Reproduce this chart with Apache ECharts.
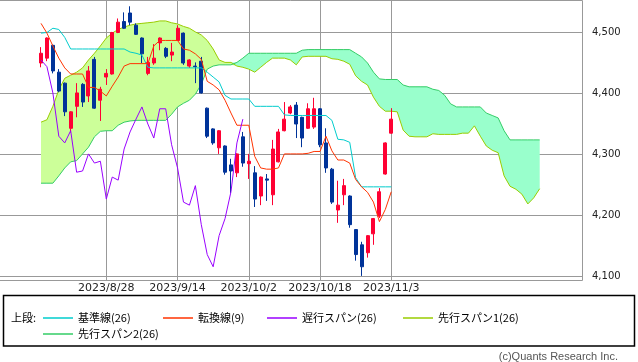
<!DOCTYPE html>
<html><head><meta charset="utf-8">
<script src="https://cdn.jsdelivr.net/npm/echarts@6/dist/echarts.min.js"></script>
<style>html,body{margin:0;padding:0;background:#fff}#c{width:638px;height:362px}</style>
</head><body><div id="c"></div>
<script>
const categories = ['2023/8/11','2023/8/14','2023/8/15','2023/8/16','2023/8/17','2023/8/18','2023/8/21','2023/8/22','2023/8/23','2023/8/24','2023/8/25','2023/8/28','2023/8/29','2023/8/30','2023/8/31','2023/9/1','2023/9/5','2023/9/6','2023/9/7','2023/9/8','2023/9/11','2023/9/12','2023/9/13','2023/9/14','2023/9/15','2023/9/18','2023/9/19','2023/9/20','2023/9/21','2023/9/22','2023/9/25','2023/9/26','2023/9/27','2023/9/28','2023/9/29','2023/10/2','2023/10/3','2023/10/4','2023/10/5','2023/10/6','2023/10/9','2023/10/10','2023/10/11','2023/10/12','2023/10/13','2023/10/16','2023/10/17','2023/10/18','2023/10/19','2023/10/20','2023/10/23','2023/10/24','2023/10/25','2023/10/26','2023/10/27','2023/10/30','2023/10/31','2023/11/1','2023/11/2','2023/11/3',
'2023/11/6','2023/11/7','2023/11/8','2023/11/9','2023/11/10','2023/11/13','2023/11/14','2023/11/15','2023/11/16','2023/11/17','2023/11/20','2023/11/21','2023/11/22','2023/11/24','2023/11/27','2023/11/28','2023/11/29','2023/11/30','2023/12/1','2023/12/4','2023/12/5','2023/12/6','2023/12/7','2023/12/8','2023/12/11'];

const tickLabels = ['2023/8/28','2023/9/14','2023/10/2','2023/10/18','2023/11/3'];

// [open, close, low, high]
const candles = [
[4450,4466,4443,4476],[4458,4491,4453,4492],[4479,4437,4433,4480],[4435,4404,4402,4440],[4417,4370,4363,4418],
[4343,4370,4336,4371],[4379,4401,4361,4417],[4415,4386,4378,4417],[4396,4437,4386,4445],[4456,4376,4375,4460],
[4389,4407,4355,4411],[4427,4433,4414,4440],[4432,4500,4431,4501],[4500,4517,4499,4523],[4518,4507,4506,4533],
[4532,4517,4512,4543],[4512,4497,4496,4515],[4491,4465,4450,4492],[4433,4451,4430,4460],[4450,4458,4447,4481],
[4483,4491,4471,4492],[4474,4461,4458,4476],[4463,4468,4453,4483],[4487,4507,4486,4512],[4499,4450,4447,4500],
[4445,4455,4442,4456],[4445,4444,4417,4451],[4453,4401,4400,4460],[4376,4330,4327,4377],[4342,4319,4316,4343],
[4311,4339,4301,4340],[4314,4271,4267,4315],[4283,4273,4237,4293],[4270,4301,4263,4302],[4329,4286,4280,4337],
[4285,4289,4260,4301],[4270,4227,4214,4281],[4232,4263,4217,4264],[4260,4258,4224,4268],[4234,4309,4217,4324],
[4288,4337,4287,4342],[4339,4358,4338,4386],[4368,4378,4366,4381],[4381,4350,4327,4386],[4361,4327,4312,4362],
[4343,4375,4342,4384],[4345,4375,4342,4393],[4375,4316,4312,4376],[4319,4278,4270,4343],[4276,4222,4219,4278],
[4209,4217,4188,4257],[4234,4249,4217,4260],[4232,4185,4180,4233],[4177,4136,4126,4177],[4152,4116,4101,4157],
[4139,4167,4131,4168],[4170,4195,4152,4196],[4199,4239,4196,4245],[4268,4319,4267,4320],[4335,4358,4334,4376]
];

const tenkan = [4515,4499,4478,4458,4442,4432,4432,4432,4410,4410,
4404,4396,4412,4427,4445,4449,4449,4449,4449,4478,
4487,4487,4487,4487,4473,4471,4465,4456,4420,4414,
4406,4389,4368,4348,4348,4348,4297,4278,4276,4276,
4278,4301,4301,4301,4301,4302,4305,4305,4330,4306,
4291,4291,4286,4259,4247,4238,4222,4190,4210,4239];

const kijun = [4499,4500,4507,4505,4492,4473,4473,4473,4473,4473,
4473,4473,4473,4473,4473,4468,4466,4463,4443,4442,
4442,4442,4442,4442,4442,4442,4442,4442,4435,4427,
4419,4397,4391,4391,4391,4391,4379,4379,4379,4379,
4379,4365,4364,4364,4364,4364,4364,4364,4364,4356,
4325,4324,4320,4262,4247,4247,4247,4247,4247,4247];

const span1 = [4353,4357,4379,4406,4425,4430,4435,4442,4455,4466,
4478,4491,4499,4505,4509,4512,4514,4515,4516,4517,
4519,4519,4516,4514,4510,4507,4501,4496,4487,4473,
4455,4451,4451,4445,4443,4440,4435,4443,4451,4458,
4458,4458,4455,4447,4460,4461,4461,4461,4461,4457,
4456,4453,4448,4429,4420,4414,4394,4379,4371,4371,
4370,4340,4330,4329,4329,4329,4334,4333,4333,4333,
4333,4335,4335,4347,4330,4314,4307,4303,4265,4248,
4243,4235,4219,4229,4244];

const span2 = [4253,4253,4253,4265,4278,4288,4290,4301,4312,4329,
4338,4339,4339,4348,4353,4355,4356,4356,4356,4356,
4356,4356,4366,4378,4384,4389,4399,4415,4440,4445,
4447,4447,4447,4451,4458,4466,4466,4466,4466,4466,
4466,4466,4466,4466,4471,4472,4472,4472,4472,4472,
4472,4472,4472,4466,4460,4450,4435,4424,4423,4423,
4423,4414,4411,4411,4411,4411,4407,4405,4397,4383,
4378,4378,4378,4378,4378,4368,4364,4360,4339,4324,
4324,4324,4324,4324,4324];

const chikouShift = 25;

const closes = candles.map(c => c[1]);
const chikou = categories.map((_, i) => (i + chikouShift < closes.length ? closes[i + chikouShift] : null));
const cloudBase = span1.map((v, i) => Math.min(v, span2[i]));
const cloudUp = span1.map((v, i) => Math.max(v - span2[i], 0));
const cloudDown = span1.map((v, i) => Math.max(span2[i] - v, 0));

const chart = echarts.init(document.getElementById('c'), null, {renderer: 'canvas'});
const isTick = (i, v) => tickLabels.indexOf(v) >= 0;
const legendCommon = {
  icon: 'rect', itemWidth: 30, itemHeight: 1.5, padding: 0, selectedMode: false,
  textStyle: {fontFamily: '"Noto Sans CJK JP"', fontSize: 11, color: '#000'}
};
const lineCommon = {type: 'line', xAxisIndex: 1, yAxisIndex: 1, symbol: 'none', showSymbol: false, clip: false, animation: false};

chart.setOption({
  animation: false,
  grid: [
    {left: 0, top: 32, width: 582, height: 244},
    {left: 41, top: 0, width: 498.7, height: 280}
  ],
  xAxis: [
    {gridIndex: 0, type: 'value', min: 0, max: 1, show: false},
    {gridIndex: 1, type: 'category', data: categories, boundaryGap: false,
     axisLine: {show: false}, axisTick: {show: false},
     axisLabel: {interval: isTick, margin: 3, fontFamily: 'DejaVu Sans', fontSize: 11, color: '#222'},
     splitLine: {show: true, interval: isTick, lineStyle: {color: '#999', width: 1}}}
  ],
  yAxis: [
    {gridIndex: 0, type: 'value', position: 'right', min: 4100, max: 4500, interval: 100,
     axisLine: {show: false}, axisTick: {show: true, length: 5, lineStyle: {color: '#999'}},
     axisLabel: {margin: 10, fontFamily: 'DejaVu Sans', fontSize: 10, color: '#222',
                 formatter: v => v.toLocaleString('en-US')},
     splitLine: {show: true, lineStyle: {color: '#999', width: 1}}},
    {gridIndex: 1, type: 'value', min: 4094.3, max: 4553.3, show: false, splitLine: {show: false}}
  ],
  legend: [
    Object.assign({data: ['基準線(26)'], left: 43, top: 312.5}, legendCommon),
    Object.assign({data: ['転換線(9)'], left: 163, top: 312.5}, legendCommon),
    Object.assign({data: ['遅行スパン(26)'], left: 267, top: 312.5}, legendCommon),
    Object.assign({data: ['先行スパン1(26)'], left: 403, top: 312.5}, legendCommon),
    Object.assign({data: ['先行スパン2(26)'], left: 43, top: 328.5}, legendCommon)
  ],
  graphic: [
    {type: 'rect', silent: true, shape: {x: -1, y: 0.5, width: 583.5, height: 280},
     style: {fill: 'none', stroke: '#999', lineWidth: 1}},
    {type: 'rect', silent: true, shape: {x: 3.5, y: 295.5, width: 631, height: 50.5},
     style: {fill: 'none', stroke: '#000', lineWidth: 1.5}},
    {type: 'text', silent: true, x: 11, y: 318,
     style: {text: '上段:', font: '11px "Noto Sans CJK JP"', fill: '#000', verticalAlign: 'middle'}},
    {type: 'text', silent: true, x: 618, y: 357,
     style: {text: '(c)Quants Research Inc.', font: '11px "Liberation Sans"', fill: '#555', align: 'right', verticalAlign: 'middle'}}
  ],
  series: [
    Object.assign({}, lineCommon, {name: 'cloudBase', data: cloudBase, stack: 'cloud', lineStyle: {opacity: 0}, silent: true, z: 1}),
    Object.assign({}, lineCommon, {name: 'cloudUp', data: cloudUp, stack: 'cloud', lineStyle: {opacity: 0}, areaStyle: {color: '#ccff99', opacity: 1}, silent: true, z: 1}),
    Object.assign({}, lineCommon, {name: 'cloudDown', data: cloudDown, stack: 'cloud', lineStyle: {opacity: 0}, areaStyle: {color: '#99ffcc', opacity: 1}, silent: true, z: 1}),
    Object.assign({}, lineCommon, {name: '先行スパン1(26)', data: span1, color: '#99cc00', itemStyle: {color: '#99cc00'}, lineStyle: {color: '#99cc00', width: 1}, z: 2}),
    Object.assign({}, lineCommon, {name: '先行スパン2(26)', data: span2, color: '#33cc66', itemStyle: {color: '#33cc66'}, lineStyle: {color: '#33cc66', width: 1}, z: 2}),
    {type: 'candlestick', xAxisIndex: 1, yAxisIndex: 1, data: candles, barWidth: 3.5, clip: false, z: 3,
     itemStyle: {color: '#ff0033', color0: '#003399', borderColor: '#ff0033', borderColor0: '#003399', borderWidth: 1}},
    Object.assign({}, lineCommon, {name: '基準線(26)', data: kijun, color: '#00cccc', itemStyle: {color: '#00cccc'}, lineStyle: {color: '#00cccc', width: 1}, z: 4}),
    Object.assign({}, lineCommon, {name: '転換線(9)', data: tenkan, color: '#ff3300', itemStyle: {color: '#ff3300'}, lineStyle: {color: '#ff3300', width: 1}, z: 4}),
    Object.assign({}, lineCommon, {name: '遅行スパン(26)', data: chikou, color: '#9900ff', itemStyle: {color: '#9900ff'}, lineStyle: {color: '#9900ff', width: 1}, z: 4})
  ]
});
</script>
</body></html>
